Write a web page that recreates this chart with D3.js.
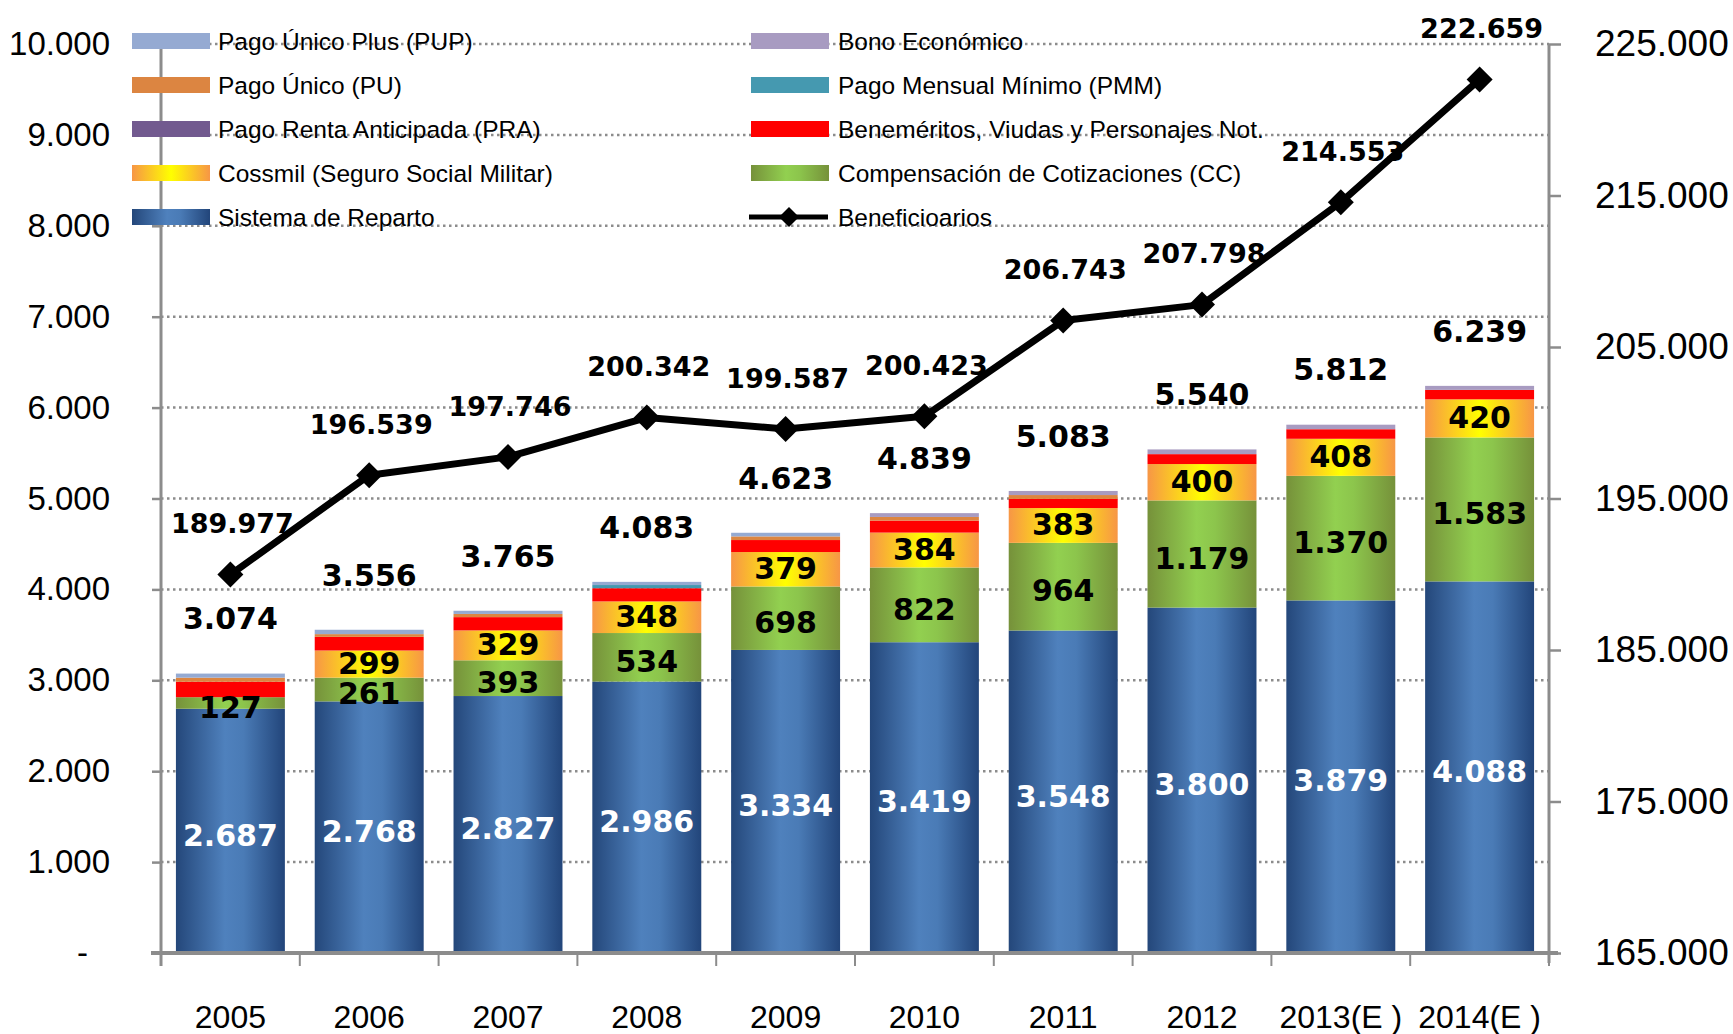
<!DOCTYPE html>
<html>
<head>
<meta charset="utf-8">
<script src="https://cdn.jsdelivr.net/npm/d3@7"></script>
<style>
  body { margin: 0; background: #fff; }
  text { font-family: "Liberation Sans", Arial, sans-serif; }
  .lbl { font-family: "DejaVu Sans", sans-serif; font-weight: bold; }
</style>
</head>
<body>
<div id="vis-container"></div>
<script>
// categories and series
var years = ["2005", "2006", "2007", "2008", "2009", "2010", "2011", "2012", "2013(E )", "2014(E )"];
var reparto = [2687, 2768, 2827, 2986, 3334, 3419, 3548, 3800, 3879, 4088];
var compensacion = [127, 261, 393, 534, 698, 822, 964, 1179, 1370, 1583];
var cossmil = [0, 299, 329, 348, 379, 384, 383, 400, 408, 420];
var benemeritos = [170, 150, 146, 145, 132, 132, 100, 109, 105, 104];
var rentaAnticipada = [0, 0, 0, 0, 0, 0, 0, 0, 0, 0];
var mensualMinimo = [0, 0, 0, 35, 0, 0, 0, 0, 0, 0];
var pagoUnico = [45, 30, 35, 0, 40, 40, 43, 0, 0, 0];
var pagoUnicoPlus = [45, 48, 35, 35, 40, 0, 0, 0, 0, 0];
var bonoEconomico = [0, 0, 0, 0, 0, 42, 45, 52, 50, 44];
var totals = [3074, 3556, 3765, 4083, 4623, 4839, 5083, 5540, 5812, 6239];
var beneficiarios = [189977, 196539, 197746, 200342, 199587, 200423, 206743, 207798, 214553, 222659];

var leftTicks = d3.range(0, 10001, 1000);
var rightTicks = [165000, 175000, 185000, 195000, 205000, 215000, 225000];

// stacking order, bottom to top
var series = [
  { key: "rep", name: "Sistema de Reparto", values: reparto, fill: "url(#gBlue)", label: "#fff" },
  { key: "cc", name: "Compensación de Cotizaciones (CC)", values: compensacion, fill: "url(#gGreen)", label: "#000" },
  { key: "cos", name: "Cossmil (Seguro Social Militar)", values: cossmil, fill: "url(#gOrange)", label: "#000" },
  { key: "ben", name: "Beneméritos, Viudas y Personajes Not.", values: benemeritos, fill: "#ff0000" },
  { key: "pra", name: "Pago Renta Anticipada  (PRA)", values: rentaAnticipada, fill: "#725a8f" },
  { key: "pmm", name: "Pago Mensual Mínimo (PMM)", values: mensualMinimo, fill: "#4599b0" },
  { key: "pu", name: "Pago Único (PU)", values: pagoUnico, fill: "#dc8541" },
  { key: "pup", name: "Pago Único Plus (PUP)", values: pagoUnicoPlus, fill: "#95aad2" },
  { key: "bono", name: "Bono Económico", values: bonoEconomico, fill: "#a89bc1" }
];

var fmt = d3.formatLocale({ decimal: ",", thousands: ".", grouping: [3], currency: ["", ""] }).format(",");

const width = 1733;
const height = 1034;
const plot = { left: 161, right: 1549, top: 44, bottom: 953 };

const x = d3.scaleBand().domain(years).range([plot.left, plot.right])
      .paddingInner(0.215).paddingOuter(0.1075);
const yL = d3.scaleLinear().domain([0, 10000]).range([plot.bottom, plot.top]);
const yR = d3.scaleLinear().domain([165000, 225000]).range([plot.bottom, plot.top]);

const svg = d3.select('#vis-container').append('svg')
      .attr('width', width).attr('height', height);
svg.append('rect').attr('width', width).attr('height', height).attr('fill', '#fff');

// gradients
const defs = svg.append('defs');
function grad(id, stops) {
  const g = defs.append('linearGradient').attr('id', id)
    .attr('x1', '0%').attr('x2', '100%').attr('y1', '0%').attr('y2', '0%');
  stops.forEach(function (s) {
    g.append('stop').attr('offset', s[0]).attr('stop-color', s[1]);
  });
}
grad('gBlue', [['0%', '#24477a'], ['45%', '#4f81bd'], ['62%', '#4a7bb6'], ['100%', '#22457a']]);
grad('gGreen', [['0%', '#76913a'], ['45%', '#92d050'], ['62%', '#8cc54c'], ['100%', '#76913a']]);
grad('gOrange', [['0%', '#f79646'], ['50%', '#ffff00'], ['100%', '#f79646']]);

// gridlines
svg.append('g').selectAll('line')
  .data(leftTicks.filter(function (d) { return d > 0; }))
  .join('line')
  .attr('x1', plot.left).attr('x2', plot.right)
  .attr('y1', function (d) { return yL(d); }).attr('y2', function (d) { return yL(d); })
  .attr('stroke', '#8c8c8c').attr('stroke-width', 2.5).attr('stroke-dasharray', '2.5 3.5');

// stacked bars
var rows = years.map(function (y, i) {
  var r = { year: y };
  series.forEach(function (s) { r[s.key] = s.values[i]; });
  return r;
});
var stack = d3.stack().keys(series.map(function (s) { return s.key; }));
var stacked = stack(rows);

const barsG = svg.append('g');
stacked.forEach(function (layer, li) {
  barsG.append('g').attr('fill', series[li].fill)
    .selectAll('rect').data(layer).join('rect')
    .attr('x', function (d) { return x(d.data.year); })
    .attr('width', x.bandwidth())
    .attr('y', function (d) { return yL(d[1]); })
    .attr('height', function (d) { return yL(d[0]) - yL(d[1]); });
});

// baseline
svg.append('line').attr('x1', 151).attr('x2', 1558)
  .attr('y1', plot.bottom).attr('y2', plot.bottom)
  .attr('stroke', '#8c8c8c').attr('stroke-width', 4);

// category boundary ticks
var bounds = years.map(function (y) { return x(y) - x.step() * x.paddingInner() / 2; });
bounds.push(plot.right);
svg.append('g').selectAll('line').data(bounds).join('line')
  .attr('x1', function (d) { return d; }).attr('x2', function (d) { return d; })
  .attr('y1', plot.bottom).attr('y2', plot.bottom + 13)
  .attr('stroke', '#8c8c8c').attr('stroke-width', 2);

// left axis
const yAxisL = d3.axisLeft(yL).tickValues(leftTicks).tickSize(9).tickPadding(42)
  .tickFormat(function (d) { return d === 0 ? '-' : fmt(d); });
const gL = svg.append('g').attr('transform', 'translate(' + plot.left + ',0)').call(yAxisL);
gL.select('.domain').remove();
gL.selectAll('.tick line').attr('stroke', '#8c8c8c').attr('stroke-width', 2.5);
gL.selectAll('.tick text').attr('font-size', 33).attr('fill', '#000')
  .attr('font-family', '"Liberation Sans", Arial, sans-serif')
  .attr('dx', function (d) { return d === 0 ? -22 : 0; });
svg.append('line').attr('x1', plot.left).attr('x2', plot.left)
  .attr('y1', plot.top).attr('y2', plot.bottom + 13)
  .attr('stroke', '#8c8c8c').attr('stroke-width', 3);

// right axis
const yAxisR = d3.axisRight(yR).tickValues(rightTicks).tickSize(12).tickPadding(34)
  .tickFormat(fmt);
const gR = svg.append('g').attr('transform', 'translate(' + plot.right + ',0)').call(yAxisR);
gR.select('.domain').remove();
gR.selectAll('.tick line').attr('stroke', '#8c8c8c').attr('stroke-width', 2.5);
gR.selectAll('.tick text').attr('font-size', 37).attr('fill', '#000')
  .attr('font-family', '"Liberation Sans", Arial, sans-serif');
svg.append('line').attr('x1', plot.right).attr('x2', plot.right)
  .attr('y1', plot.top).attr('y2', plot.bottom + 10)
  .attr('stroke', '#8c8c8c').attr('stroke-width', 3);

// x axis labels
const xAxis = d3.axisBottom(x).tickSize(0).tickPadding(0);
const gX = svg.append('g').attr('transform', 'translate(0,' + (plot.bottom + 64) + ')').call(xAxis);
gX.select('.domain').remove();
gX.selectAll('.tick text').attr('font-size', 32).attr('fill', '#000')
  .attr('font-family', '"Liberation Sans", Arial, sans-serif')
  .attr('dy', '0.35em').attr('y', 0);

// in-bar labels
const lblG = svg.append('g');
[0, 1, 2].forEach(function (li) {
  lblG.append('g').selectAll('text')
    .data(stacked[li].filter(function (d) { return d[1] - d[0] > 0; }))
    .join('text').attr('class', 'lbl')
    .attr('x', function (d) { return x(d.data.year) + x.bandwidth() / 2; })
    .attr('y', function (d) { return (yL(d[0]) + yL(d[1])) / 2 + (li < 2 ? 4 : -1); })
    .attr('dy', '0.36em')
    .attr('text-anchor', 'middle').attr('font-size', 30)
    .attr('fill', series[li].label)
    .text(function (d) { return fmt(d[1] - d[0]); });
});

// totals
lblG.append('g').selectAll('text').data(totals).join('text').attr('class', 'lbl')
  .attr('x', function (d, i) { return x(years[i]) + x.bandwidth() / 2; })
  .attr('y', function (d, i) { return yL(d) - 55; })
  .attr('dy', '0.36em')
  .attr('text-anchor', 'middle').attr('font-size', 30).attr('fill', '#000')
  .text(function (d) { return fmt(d); });

// beneficiarios labels
lblG.append('g').selectAll('text').data(beneficiarios).join('text').attr('class', 'lbl')
  .attr('x', function (d, i) { return x(years[i]) + x.bandwidth() / 2 + 2; })
  .attr('y', function (d) { return yR(d) - 51; })
  .attr('dy', '0.36em')
  .attr('text-anchor', 'middle').attr('font-size', 27).attr('fill', '#000')
  .text(function (d) { return fmt(d); });

// beneficiarios line
var line = d3.line()
  .x(function (d, i) { return x(years[i]) + x.bandwidth() / 2; })
  .y(function (d) { return yR(d); });
svg.append('path').datum(beneficiarios)
  .attr('fill', 'none').attr('stroke', '#000').attr('stroke-width', 7)
  .attr('stroke-linejoin', 'round').attr('d', line);

function diamond(g, cx, cy, r) {
  g.append('path')
    .attr('d', 'M' + cx + ',' + (cy - r) + 'L' + (cx + r) + ',' + cy + 'L' + cx + ',' + (cy + r) + 'L' + (cx - r) + ',' + cy + 'Z')
    .attr('fill', '#000');
}
const mk = svg.append('g');
beneficiarios.forEach(function (d, i) {
  diamond(mk, x(years[i]) + x.bandwidth() / 2, yR(d), 13);
});

// legend
var legendLeft = ["pup", "pu", "pra", "cos", "rep"];
var legendRight = ["bono", "pmm", "ben", "cc", "line"];
var legendRows = [41, 85, 129, 173, 217];
const lg = svg.append('g');
function legendItem(key, col, row) {
  var sx = col === 0 ? 132 : 751;
  var tx = col === 0 ? 218 : 838;
  var cy = legendRows[row];
  var name;
  if (key === 'line') {
    name = 'Beneficioarios';
    lg.append('line').attr('x1', sx - 2).attr('x2', sx + 77).attr('y1', cy).attr('y2', cy)
      .attr('stroke', '#000').attr('stroke-width', 5);
    diamond(lg, sx + 38, cy, 10);
  } else {
    var s = series.find(function (d) { return d.key === key; });
    name = s.name;
    lg.append('rect').attr('x', sx).attr('y', cy - 8).attr('width', 78).attr('height', 16)
      .attr('fill', s.fill);
  }
  lg.append('text').attr('x', tx).attr('y', cy).attr('dy', '0.35em')
    .attr('font-size', 24.5).attr('fill', '#000').text(name);
}
legendLeft.forEach(function (k, i) { legendItem(k, 0, i); });
legendRight.forEach(function (k, i) { legendItem(k, 1, i); });
</script>
</body>
</html>
